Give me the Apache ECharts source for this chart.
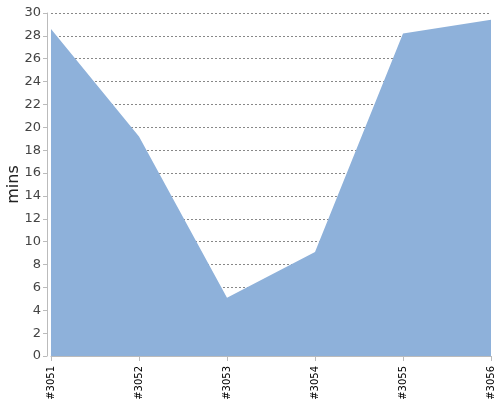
<!DOCTYPE html>
<html><head><meta charset="utf-8">
<script src="https://cdn.jsdelivr.net/npm/echarts@6/dist/echarts.min.js"></script>
<style>html,body{margin:0;padding:0;background:#fff}#c{width:500px;height:400px}</style>
</head><body><div id="c"></div>
<script>
var categories = ['#3051', '#3052', '#3053', '#3054', '#3055', '#3056'];
var minsValues = [28.6, 19.2, 5.1, 9.1, 28.2, 29.4];
var yTicks = [0, 30, 2];

var chart = echarts.init(document.getElementById('c'), null, {renderer: 'canvas'});
chart.setOption({
  animation: false,
  grid: {left: 51, right: 9, top: 13, bottom: 44, containLabel: false, outerBoundsMode: 'none'},
  xAxis: {
    type: 'category',
    data: categories,
    boundaryGap: false,
    offset: 4,
    axisLine: {lineStyle: {color: '#bbbbbb', width: 1}},
    axisTick: {show: true, length: 5, lineStyle: {color: '#bbbbbb'}},
    axisLabel: {rotate: 90, color: '#000', fontSize: 10, fontFamily: 'DejaVu Sans', margin: 6},
    splitLine: {show: false}
  },
  yAxis: {
    type: 'value',
    min: yTicks[0], max: yTicks[1], interval: yTicks[2],
    offset: 4,
    name: 'mins',
    nameLocation: 'middle',
    nameGap: 25,
    nameMoveOverlap: false,
    nameTextStyle: {fontSize: 16, color: '#222', fontFamily: 'DejaVu Sans'},
    axisLine: {show: true, lineStyle: {color: '#bbbbbb', width: 1}},
    axisTick: {show: true, length: 4, lineStyle: {color: '#bbbbbb'}},
    axisLabel: {color: '#444', fontSize: 13, fontFamily: 'DejaVu Sans', margin: 6},
    splitLine: {show: true, lineStyle: {color: '#888888', type: [2, 2], width: 1}}
  },
  series: [{
    type: 'line',
    data: minsValues,
    symbol: 'none',
    lineStyle: {width: 0},
    areaStyle: {color: '#8eb1da', opacity: 1},
    z: 1
  }]
});
</script></body></html>
